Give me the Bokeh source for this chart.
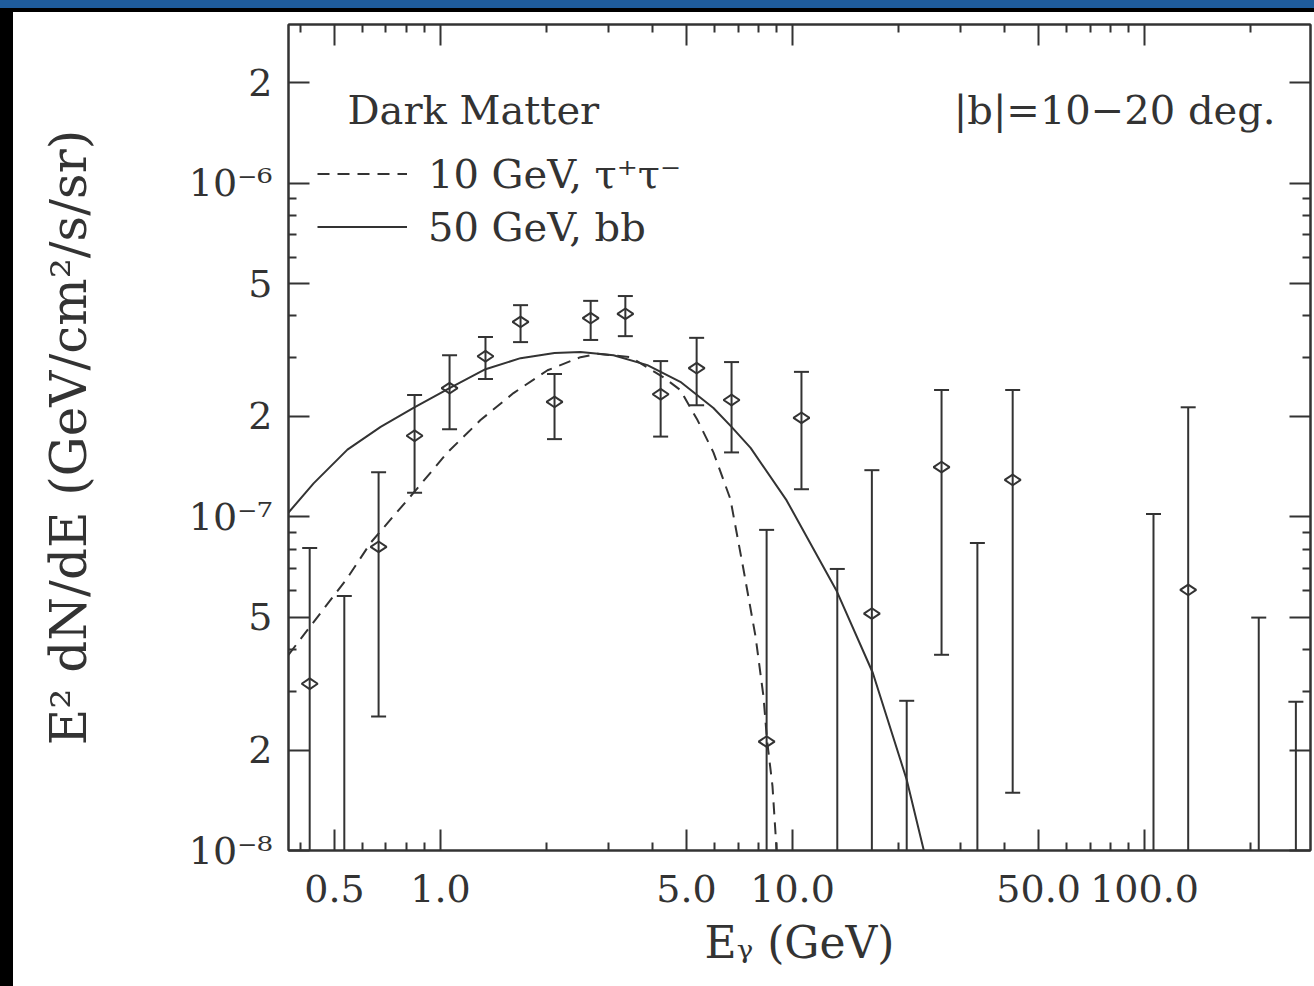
import numpy as np
from bokeh.plotting import figure
from bokeh.models import (FixedTicker, CustomJSTickFormatter, LogAxis, Label,
                          Legend, LegendItem, ColumnDataSource, Div)
from bokeh.layouts import column, row
from bokeh.embed import file_html
from bokeh.resources import INLINE

nan = float("nan")

# ---------------- data ----------------
energy = [0.425, 0.533, 0.667, 0.844, 1.061, 1.342, 1.688, 2.108, 2.67, 3.35,
          4.22, 5.34, 6.71, 8.44, 10.6, 13.4, 16.8, 21.1, 26.5, 33.5,
          42.2, 106, 133, 211, 269]
flux = [3.16e-8, nan, 8.13e-8, 1.75e-7, 2.43e-7, 3.03e-7, 3.84e-7, 2.21e-7, 3.94e-7, 4.06e-7,
        2.33e-7, 2.79e-7, 2.24e-7, 2.12e-8, 1.98e-7, nan, 5.13e-8, nan, 1.41e-7, nan,
        1.29e-7, nan, 6.04e-8, nan, nan]
flux_hi = [8.07e-8, 5.79e-8, 1.36e-7, 2.32e-7, 3.05e-7, 3.46e-7, 4.31e-7, 2.68e-7, 4.44e-7, 4.59e-7,
           2.93e-7, 3.44e-7, 2.91e-7, 9.14e-8, 2.72e-7, 6.98e-8, 1.38e-7, 2.81e-8, 2.40e-7, 8.35e-8,
           2.40e-7, 1.02e-7, 2.13e-7, 4.99e-8, 2.79e-8]
flux_lo = [nan, nan, 2.52e-8, 1.18e-7, 1.83e-7, 2.59e-7, 3.34e-7, 1.71e-7, 3.39e-7, 3.48e-7,
           1.74e-7, 2.16e-7, 1.56e-7, nan, 1.21e-7, nan, nan, nan, 3.86e-8, nan,
           1.49e-8, nan, nan, nan, nan]

# 50 GeV, b bbar model
bb_energy = [0.370, 0.436, 0.544, 0.676, 0.838, 1.061, 1.342, 1.688, 2.108, 2.498,
             3.10, 3.87, 4.80, 5.96, 6.71, 7.60, 9.62, 13.3, 16.9, 21.1, 23.6, 24.7]
bb_flux = [1.03e-7, 1.26e-7, 1.59e-7, 1.86e-7, 2.12e-7, 2.43e-7, 2.77e-7, 2.99e-7, 3.10e-7, 3.12e-7,
           3.05e-7, 2.85e-7, 2.54e-7, 2.12e-7, 1.86e-7, 1.61e-7, 1.12e-7, 6.04e-8, 3.41e-8, 1.63e-8,
           1.0e-8, 8.2e-9]

# 10 GeV, tau+ tau- model
tau_energy = [0.370, 0.544, 0.633, 0.838, 1.047, 1.299, 1.612, 2.014, 2.498, 2.79,
              3.46, 4.30, 4.80, 5.37, 5.96, 6.66, 7.26, 7.85, 8.27, 8.46, 8.77, 9.01, 9.1]
tau_flux = [3.86e-8, 6.56e-8, 8.36e-8, 1.18e-7, 1.56e-7, 1.95e-7, 2.35e-7, 2.75e-7, 3.01e-7, 3.08e-7,
            3.01e-7, 2.62e-7, 2.40e-7, 1.95e-7, 1.56e-7, 1.13e-7, 6.93e-8, 4.38e-8, 2.89e-8, 2.15e-8,
            1.56e-8, 1.0e-8, 8e-9]

x_major = [0.5, 1.0, 5.0, 10.0, 50.0, 100.0]
x_minor = [0.4, 0.6, 0.7, 0.8, 0.9, 2, 3, 4, 6, 7, 8, 9, 20, 30, 40, 60, 70, 80, 90, 200]
y_major = [1e-8, 2e-8, 5e-8, 1e-7, 2e-7, 5e-7, 1e-6, 2e-6]
y_minor = [3e-8, 4e-8, 6e-8, 7e-8, 8e-8, 9e-8, 3e-7, 4e-7, 6e-7, 7e-7, 8e-7, 9e-7, 3e-6]

x_lim = (0.37, 296)
y_lim = (1e-8, 2.99e-6)

title_left = "Dark Matter"
title_right = "|b|=10\u221220 deg."
label_tau = "10 GeV, \u03c4\u207a\u03c4\u207b"
label_bb = "50 GeV, bb"
x_label = "E\u1d67 (GeV)"
y_label = "E\u00b2 dN/dE (GeV/cm\u00b2/s/sr)"

# ---------------- styling ----------------
INK = "#333333"
FONT = "DejaVu Serif"

p = figure(x_axis_type="log", y_axis_type="log", x_range=x_lim, y_range=y_lim,
           width=1301, height=974, output_backend="svg", toolbar_location=None,
           min_border_left=275, min_border_right=4, min_border_top=12, min_border_bottom=136,
           background_fill_color="white", border_fill_color="white")
p.xgrid.visible = False
p.ygrid.visible = False
p.outline_line_color = INK
p.outline_line_width = 2

ylo = np.array(flux_lo, dtype=float)
seg_bottom = np.where(np.isnan(ylo), y_lim[0] * 0.3, ylo)
src = ColumnDataSource(dict(x=energy, y=flux, hi=flux_hi, lo=flux_lo, bot=seg_bottom))

# model curves
tau_r = p.line(tau_energy, tau_flux, line_color=INK, line_width=2, line_dash="12 8")
bb_r = p.line(bb_energy, bb_flux, line_color=INK, line_width=2)

# error bars
p.segment(x0="x", y0="bot", x1="x", y1="hi", source=src, line_color=INK, line_width=2)
p.scatter(x="x", y="hi", source=src, marker="dash", size=15, line_color=INK, line_width=2)
p.scatter(x="x", y="lo", source=src, marker="dash", size=15, line_color=INK, line_width=2)
p.scatter(x="x", y="y", source=src, marker="diamond", angle=np.pi / 2, size=16,
          line_color=INK, line_width=2, fill_alpha=0)

# axes
def style_axis(ax, labels=True):
    ax.axis_line_color = INK
    ax.axis_line_width = 2
    ax.major_tick_line_color = INK
    ax.minor_tick_line_color = INK
    ax.major_tick_line_width = 2
    ax.minor_tick_line_width = 2
    ax.major_tick_in = 21
    ax.major_tick_out = 0
    ax.minor_tick_in = 8
    ax.minor_tick_out = 0
    ax.major_label_text_font = FONT
    ax.major_label_text_color = INK
    ax.major_label_text_font_size = "38px"
    if not labels:
        ax.major_label_text_font_size = "0px"
        ax.major_label_standoff = 0
        ax.formatter = CustomJSTickFormatter(code="return '';")

xt = FixedTicker(ticks=x_major, minor_ticks=x_minor)
yt = FixedTicker(ticks=y_major, minor_ticks=y_minor)

xfmt = CustomJSTickFormatter(code="return tick.toFixed(1);")
yfmt = CustomJSTickFormatter(code="""
const e = Math.floor(Math.log10(tick) + 1e-6);
const m = Math.round(tick / Math.pow(10, e));
if (m === 1) {
  const sup = {'-':'\u207b','0':'\u2070','1':'\u00b9','2':'\u00b2','3':'\u00b3','4':'\u2074',
               '5':'\u2075','6':'\u2076','7':'\u2077','8':'\u2078','9':'\u2079'};
  return '10' + String(e).split('').map(c => sup[c]).join('');
}
return String(m);
""")

xa = p.xaxis[0]
xa.ticker = xt
xa.formatter = xfmt
style_axis(xa)
xa.major_label_standoff = 24
xa.axis_label = x_label
xa.axis_label_text_font = FONT
xa.axis_label_text_font_style = "normal"
xa.axis_label_text_font_size = "44px"
xa.axis_label_text_color = INK
xa.axis_label_standoff = 12

ya = p.yaxis[0]
ya.ticker = yt
ya.formatter = yfmt
style_axis(ya)
ya.major_label_standoff = 16
ya.axis_label = y_label
ya.axis_label_text_font = FONT
ya.axis_label_text_font_style = "normal"
ya.axis_label_text_font_size = "50px"
ya.axis_label_text_color = INK
ya.axis_label_standoff = 88

top_ax = LogAxis(ticker=FixedTicker(ticks=x_major, minor_ticks=x_minor))
style_axis(top_ax, labels=False)
p.add_layout(top_ax, "above")
right_ax = LogAxis(ticker=FixedTicker(ticks=y_major, minor_ticks=y_minor))
style_axis(right_ax, labels=False)
p.add_layout(right_ax, "right")

# legend
legend = Legend(items=[LegendItem(label=label_tau, renderers=[tau_r]),
                       LegendItem(label=label_bb, renderers=[bb_r])],
                location=(29, 597), padding=0, margin=0, spacing=0,
                glyph_width=90, glyph_height=53, label_height=53, label_standoff=21,
                label_text_font=FONT, label_text_font_size="40px", label_text_color=INK,
                border_line_alpha=0, background_fill_alpha=0)
p.add_layout(legend)

p.add_layout(Label(x=59, y=741, x_units="screen", y_units="screen", text=title_left,
                   text_font=FONT, text_font_size="40px", text_color=INK,
                   text_baseline="alphabetic"))
p.add_layout(Label(x=987, y=741, x_units="screen", y_units="screen", text=title_right,
                   text_font=FONT, text_font_size="40px", text_color=INK,
                   text_align="right", text_baseline="alphabetic"))

top_bar = Div(width=1314, height=8, margin=0, styles={"background-color": "#1f5c9c"})
black_line = Div(width=1314, height=4, margin=0, styles={"background-color": "#000000"})
left_bar = Div(width=13, height=974, margin=0, styles={"background-color": "#000000"})
p.margin = 0
page = column(top_bar, black_line, row(left_bar, p, spacing=0), spacing=0)

open("out.html", "w").write(file_html(page, INLINE))
